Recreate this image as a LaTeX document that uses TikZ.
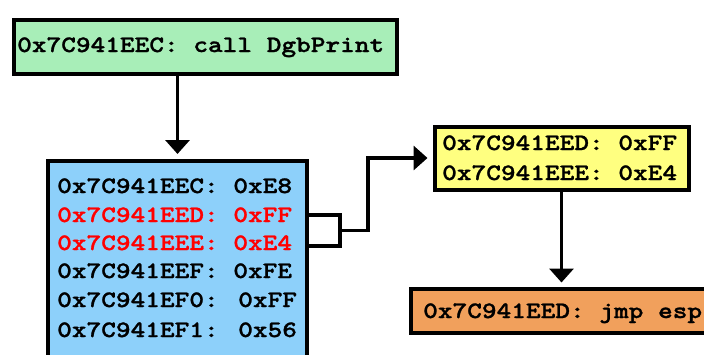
\documentclass[tikz,border=0pt]{standalone}
\usepackage{fontspec}
\newfontfamily\codefont{lmmonolt10-bold.otf}[FakeStretch=1.19, FakeBold=1.2]
\usetikzlibrary{arrows.meta,calc}
\definecolor{callgreen}{RGB}{168,238,184}
\definecolor{memblue}{RGB}{141,208,250}
\definecolor{bytesyellow}{RGB}{255,255,128}
\definecolor{jmporange}{RGB}{241,160,92}
\tikzset{
  box/.style={draw=black, line width=4pt, anchor=north west, inner sep=0pt},
  code/.style={font=\codefont\fontsize{23.5}{28}\selectfont, anchor=base west, inner sep=0pt},
  wire/.style={draw=black, line width=3.5pt},
  link/.style={wire, -{Triangle[width=24pt,length=14pt]}},
}
\begin{document}
\begin{tikzpicture}[x=1pt,y=-1pt]
\useasboundingbox (0,0) rectangle (704,354);

% boxes
\node[box, fill=callgreen, minimum width=383pt, minimum height=54pt] (green) at (12,18) {};
\node[box, fill=memblue, minimum width=259pt, minimum height=230pt] (blue) at (46,159) {};
\node[box, fill=bytesyellow, minimum width=254pt, minimum height=63pt] (yellow) at (432.5,124.5) {};
\node[box, fill=jmporange, minimum width=320pt, minimum height=44pt] (orange) at (408.5,286.5) {};

% texts
\node[code] (call) at (17,52) {0x7C941EEC: call DgbPrint};
\node[code] (l1) at (57,193) {0x7C941EEC: 0xE8};
\node[code, text=red] (l2) at (57,222) {0x7C941EED: 0xFF};
\node[code, text=red] (l3) at (57,250) {0x7C941EEE: 0xE4};
\node[code] (l4) at (57,278) {0x7C941EEF: 0xFE};
\node[code] (l5) at (57,307) {0x7C941EF0: 0xFF};
\node[code] (l6) at (57,337) {0x7C941EF1: 0x56};
\node[code] (y1) at (442,150) {0x7C941EED: 0xFF};
\node[code] (y2) at (442,180) {0x7C941EEE: 0xE4};
\node[code] (jmp) at (423,318) {0x7C941EED: jmp esp};

% connectors
\draw[link, shorten >=5pt] (green.south -| blue.north) -- (blue.north);
\draw[wire] (blue.east |- l2.center) -- ++(31,0) coordinate (b1)
  -- (b1 |- {$(l3.base)+(0,-4)$}) coordinate (b2) -- (blue.east |- b2);
\coordinate (mid) at ($(b1)!0.5!(b2)$);
\draw[link, shorten >=5pt] (mid) -- ++(28,0) |- (yellow.west);
\draw[link, shorten >=4pt] (yellow.south) -- (yellow.south |- orange.north);
\end{tikzpicture}
\end{document}
